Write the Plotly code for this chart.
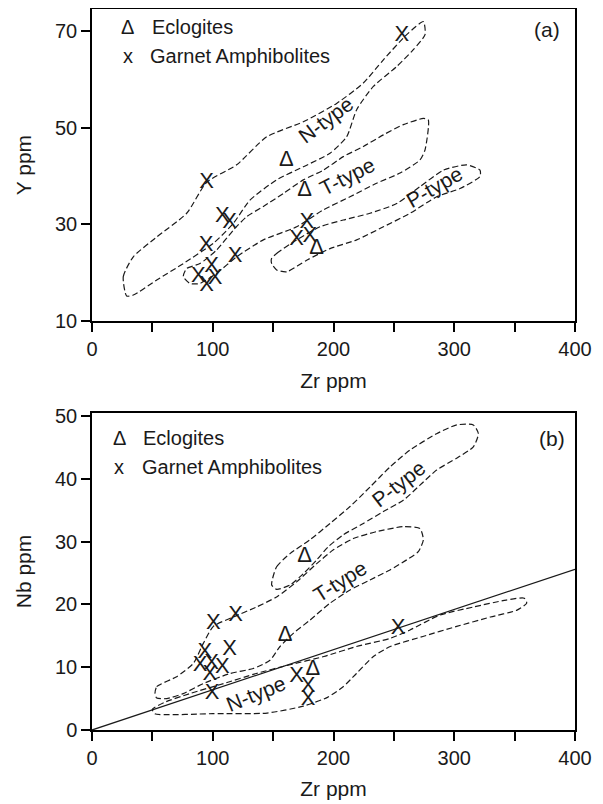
import plotly.graph_objects as go

# ---------------- Panel (a): Zr vs Y ----------------
ecl_zr_a = [161, 176, 186]
ecl_y_a = [43.3, 37.1, 25.0]
gam_zr_a = [256.5, 95, 108, 114, 94.5, 118.5, 99, 88, 102, 95, 178, 180.5, 169.5]
gam_y_a = [69.0, 38.7, 31.6, 30.3, 25.7, 23.3, 21.2, 19.2, 18.8, 17.4, 30.4, 27.4, 26.8]

ntype_zr_a = [28.7, 25.9, 34.2, 53.6, 78.4, 95, 119.8, 144.7, 175, 202.6, 224.7, 241.3, 260.6, 274.4,
              275.8, 266.1, 252.3, 233, 219.2, 210.9, 197.1, 175, 152.9, 130.8, 117, 100.5, 75.6, 53.6, 34.2, 28.7]
ntype_y_a = [15.2, 19.2, 23.3, 27.4, 32.3, 38.7, 42.3, 48.1, 51.2, 55.0, 59.2, 64.0, 69.2, 71.9,
             69.2, 66.1, 62.6, 58.5, 53.7, 48.1, 44.7, 41.9, 39.2, 35.0, 30.2, 26.1, 21.9, 18.5, 15.4, 15.2]

ttype_zr_a = [89.4, 103.2, 119.8, 141.9, 169.5, 191.6, 213.7, 235.7, 255.1, 271.6, 275.8, 278.5, 274.4,
              257.8, 241.3, 224.7, 208.1, 191.6, 175, 158.5, 141.9, 128.1, 117, 103.2, 89.4, 78.4, 75.6, 81.2, 89.4]
ttype_y_a = [17.8, 19.9, 23.3, 26.8, 29.5, 33.0, 35.7, 38.5, 40.6, 43.3, 45.4, 51.6, 51.9,
             50.6, 48.5, 46.1, 44.0, 41.2, 39.2, 36.4, 33.7, 31.6, 28.8, 24.7, 21.9, 20.9, 19.2, 17.8, 17.8]

ptype_zr_a = [148.8, 152.9, 169.5, 188.8, 208.1, 230.2, 252.3, 271.6, 291, 310.3, 321.3, 321.3, 304.8,
              285.4, 263.4, 241.3, 219.2, 197.1, 177.8, 161.2, 152.9, 148.8, 148.8]
ptype_y_a = [23.0, 24.0, 26.8, 29.5, 30.9, 32.3, 34.3, 37.8, 41.2, 42.3, 41.2, 39.9, 37.4,
             35.7, 32.3, 29.5, 26.8, 25.0, 22.6, 20.2, 20.6, 21.9, 23.0]

labels_a = ["N-type", "T-type", "P-type"]
labels_a_zr = [194, 211, 284]
labels_a_y = [51.6, 39.9, 37.8]
labels_a_angle = [-37, -27, -30]

# ---------------- Panel (b): Zr vs Nb ----------------
ecl_zr_b = [176, 160, 183]
ecl_nb_b = [27.6, 15.1, 9.6]
gam_zr_b = [100.5, 119, 114, 93.5, 89.5, 99, 108, 97.5, 99.5, 169.5, 179, 179, 253.5]
gam_nb_b = [16.9, 18.2, 12.8, 12.4, 10.2, 10.6, 9.9, 8.8, 5.8, 8.5, 6.9, 4.8, 16.2]

ref_zr = [0, 400]
ref_nb = [0, 25.6]

ptype_zr_b = [148.8, 152.9, 164.0, 180.5, 197.1, 213.7, 230.2, 246.8, 263.4, 285.4, 302, 315.8, 320,
              315.8, 302, 285.4, 271.6, 257.8, 241.3, 224.7, 208.1, 195.7, 186.1, 175, 164, 152.9, 148.8]
ptype_nb_b = [23.1, 26.0, 28.1, 30.3, 32.9, 35.6, 38.7, 41.9, 44.6, 47.2, 48.6, 48.6, 47.2,
              45.1, 43.3, 41.4, 39.0, 36.6, 34.8, 32.9, 31.1, 29.2, 27.1, 24.9, 23.1, 22.4, 23.1]

ttype_zr_b = [52.2, 53.6, 70.1, 83.9, 92.2, 100.5, 117, 136.4, 152.9, 169.5, 186.1, 199.9, 216.4, 235.7,
              257.8, 271.6, 274.4, 270.2, 260.6, 246.8, 230.2, 213.7, 197.1, 180.5, 166.7, 155.7, 147.4,
              133.6, 114.3, 92.2, 75.6, 61.8, 53.6, 52.2]
ttype_nb_b = [5.8, 6.9, 8.5, 10.6, 13.8, 16.5, 18.0, 19.6, 21.2, 23.6, 26.5, 28.7, 30.5, 31.6,
              32.4, 32.1, 30.3, 28.4, 27.1, 25.5, 23.9, 22.3, 20.2, 17.5, 15.4, 13.3, 11.1,
              9.8, 9.0, 7.4, 5.8, 5.0, 5.1, 5.8]

ntype_zr_b = [50, 52, 100, 145, 175, 195, 208, 219, 233, 247, 274, 302, 330, 352, 360, 358, 343, 316,
              288, 263, 247, 219, 192, 164, 136, 109, 81, 60, 50]
ntype_nb_b = [3.3, 2.6, 2.6, 2.7, 3.8, 5.2, 6.9, 9.0, 11.7, 13.3, 14.9, 16.5, 18.0, 19.1, 20.2, 21.0, 20.7, 19.6,
              18.3, 15.9, 14.6, 13.3, 11.7, 10.4, 9.0, 7.4, 5.8, 4.4, 3.3]

labels_b = ["P-type", "T-type", "N-type"]
labels_b_zr = [254, 205, 136]
labels_b_nb = [39.3, 23.6, 5.8]
labels_b_angle = [-38, -32, -22]

x_ticks = [0, 50, 100, 150, 200, 250, 300, 350, 400]
x_ticktext = ["0", "", "100", "", "200", "", "300", "", "400"]
y_ticks_a = [10, 30, 50, 70]
y_ticks_b = [0, 10, 20, 30, 40, 50]

FONT = "Liberation Sans, Arial, sans-serif"
INK = "#1a1a1a"
DASH = "6px,3px"

fig = go.Figure()


def outline(xs, ys, xa, ya):
    fig.add_trace(go.Scatter(x=xs, y=ys, mode="lines", xaxis=xa, yaxis=ya,
                             line=dict(color=INK, width=1.2, dash=DASH, shape="spline", smoothing=0.6),
                             hoverinfo="skip", showlegend=False))


def glyphs(xs, ys, ch, xa, ya):
    fig.add_trace(go.Scatter(x=xs, y=ys, mode="text", text=[ch] * len(xs), xaxis=xa, yaxis=ya,
                             textposition="middle center",
                             textfont=dict(family=FONT, size=22, color=INK), showlegend=False))


outline(ntype_zr_a, ntype_y_a, "x", "y")
outline(ttype_zr_a, ttype_y_a, "x", "y")
outline(ptype_zr_a, ptype_y_a, "x", "y")
glyphs(gam_zr_a, gam_y_a, "X", "x", "y")
glyphs(ecl_zr_a, ecl_y_a, "Δ", "x", "y")

fig.add_trace(go.Scatter(x=ref_zr, y=ref_nb, mode="lines", xaxis="x2", yaxis="y2",
                         line=dict(color=INK, width=1.3), showlegend=False))
outline(ptype_zr_b, ptype_nb_b, "x2", "y2")
outline(ttype_zr_b, ttype_nb_b, "x2", "y2")
outline(ntype_zr_b, ntype_nb_b, "x2", "y2")
glyphs(gam_zr_b, gam_nb_b, "X", "x2", "y2")
glyphs(ecl_zr_b, ecl_nb_b, "Δ", "x2", "y2")

annotations = []
for t, xv, yv, ang in zip(labels_a, labels_a_zr, labels_a_y, labels_a_angle):
    annotations.append(dict(x=xv, y=yv, xref="x", yref="y", text=t, showarrow=False, textangle=ang,
                            font=dict(family=FONT, size=21, color=INK)))
for t, xv, yv, ang in zip(labels_b, labels_b_zr, labels_b_nb, labels_b_angle):
    annotations.append(dict(x=xv, y=yv, xref="x2", yref="y2", text=t, showarrow=False, textangle=ang,
                            font=dict(family=FONT, size=21, color=INK)))


def note(text, x, y, xr, yr, anchor="center", size=20):
    annotations.append(dict(x=x, y=y, xref=xr, yref=yr, text=text, showarrow=False, xanchor=anchor,
                            yanchor="middle", font=dict(family=FONT, size=size, color=INK)))


note("Δ", 0.0745, 0.942, "x domain", "y domain")
note("Eclogites", 0.120, 0.942, "x domain", "y domain", "left")
note("x", 0.0745, 0.849, "x domain", "y domain")
note("Garnet Amphibolites", 0.116, 0.849, "x domain", "y domain", "left")
note("(a)", 0.942, 0.933, "x domain", "y domain", size=21)

note("Δ", 0.056, 0.921, "x2 domain", "y2 domain")
note("Eclogites", 0.101, 0.921, "x2 domain", "y2 domain", "left")
note("x", 0.056, 0.830, "x2 domain", "y2 domain")
note("Garnet Amphibolites", 0.099, 0.830, "x2 domain", "y2 domain", "left")
note("(b)", 0.952, 0.921, "x2 domain", "y2 domain", size=21)

axis_common = dict(showline=True, linecolor="black", linewidth=1.5, mirror=True, showgrid=False,
                   zeroline=False, ticks="outside", ticklen=9, tickwidth=1.5, tickcolor="black",
                   tickfont=dict(family=FONT, size=20, color=INK), automargin=False)

TITLE_FONT = dict(family=FONT, size=21, color=INK)

fig.update_layout(
    width=595, height=796,
    margin=dict(l=84, r=28, t=1, b=74),
    paper_bgcolor="white", plot_bgcolor="white",
    showlegend=False,
    xaxis=dict(domain=[0, 1], anchor="y", range=[0, 400], tickvals=x_ticks, ticktext=x_ticktext,
               title=dict(text="Zr ppm", font=TITLE_FONT, standoff=14), **axis_common),
    yaxis=dict(domain=[0.567, 1], anchor="x", range=[10, 74.5], tickvals=y_ticks_a,
               title=dict(text="Y ppm", font=TITLE_FONT, standoff=18), **axis_common),
    xaxis2=dict(domain=[0, 1], anchor="y2", range=[0, 400], tickvals=x_ticks, ticktext=x_ticktext,
                title=dict(text="Zr ppm", font=TITLE_FONT, standoff=14), **axis_common),
    yaxis2=dict(domain=[0, 0.4397], anchor="x2", range=[0, 50.5], tickvals=y_ticks_b,
                title=dict(text="Nb ppm", font=TITLE_FONT, standoff=18), **axis_common),
    annotations=annotations,
)

fig.write_html("out.html")
